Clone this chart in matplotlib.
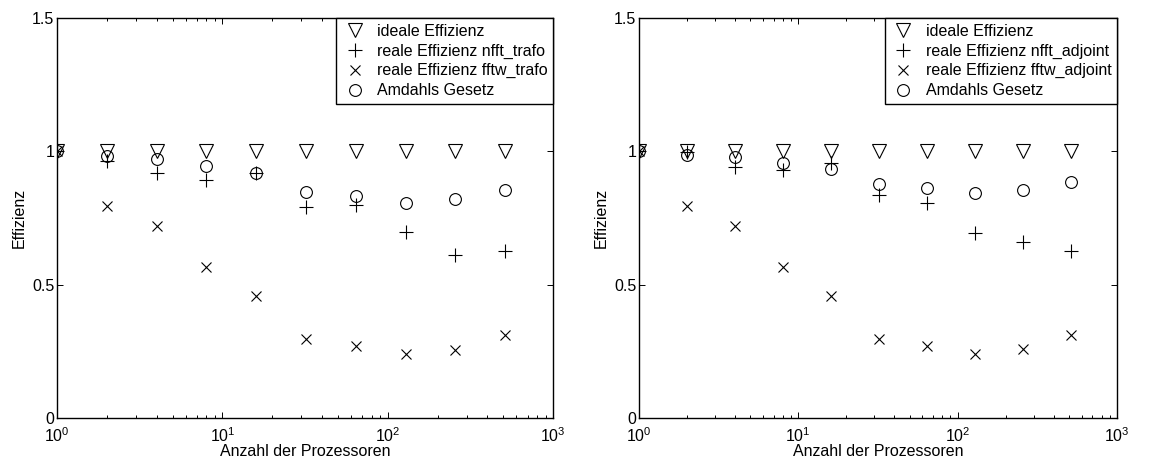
"""
Parallel efficiency: nfft/fftw trafo and adjoint vs. Amdahl's law
Two log-x scatter panels, MATLAB-like styling
"""
import matplotlib
matplotlib.use("Agg")
import matplotlib.pyplot as plt
from matplotlib.ticker import LogLocator, NullFormatter, FixedLocator

plt.rcParams["font.family"] = ["Liberation Sans", "DejaVu Sans"]

PROCS = [1, 2, 4, 8, 16, 32, 64, 128, 256, 512]
IDEAL = [1.0] * 10

# left panel (trafo)
NFFT_TRAFO = [1.0, 0.965, 0.919, 0.891, 0.919, 0.79, 0.798, 0.698, 0.61, 0.628]
FFTW_TRAFO = [1.0, 0.794, 0.721, 0.566, 0.458, 0.298, 0.27, 0.24, 0.256, 0.31]
AMDAHL_TRAFO = [1.0, 0.983, 0.973, 0.946, 0.919, 0.849, 0.831, 0.808, 0.82, 0.856]

# right panel (adjoint)
NFFT_ADJ = [1.0, 0.998, 0.94, 0.931, 0.956, 0.835, 0.808, 0.695, 0.659, 0.625]
FFTW_ADJ = [1.0, 0.794, 0.721, 0.566, 0.458, 0.298, 0.27, 0.241, 0.258, 0.31]
AMDAHL_ADJ = [1.0, 0.986, 0.978, 0.958, 0.935, 0.879, 0.863, 0.843, 0.854, 0.884]

PANELS = [
    ([0.049, 0.0933, 0.4258, 0.8677], NFFT_TRAFO, FFTW_TRAFO, AMDAHL_TRAFO,
     "reale Effizienz nfft_trafo", "reale Effizienz fftw_trafo"),
    ([0.5485, 0.0933, 0.4103, 0.8677], NFFT_ADJ, FFTW_ADJ, AMDAHL_ADJ,
     "reale Effizienz nfft_adjoint", "reale Effizienz fftw_adjoint"),
]

FS = 11.5

fig = plt.figure(figsize=(11.65, 4.61), dpi=100)

for rect, nfft, fftw, amdahl, lab_nfft, lab_fftw in PANELS:
    ax = fig.add_axes(rect)
    ax.set_xscale("log")
    ax.plot(PROCS, IDEAL, linestyle="none", marker="v", markersize=9.5,
            markerfacecolor="none", markeredgecolor="black", markeredgewidth=0.8,
            label="ideale Effizienz")
    ax.plot(PROCS, nfft, linestyle="none", marker="+", markersize=9.5,
            color="black", markeredgewidth=0.8, label=lab_nfft)
    ax.plot(PROCS, fftw, linestyle="none", marker="x", markersize=7,
            color="black", markeredgewidth=0.8, label=lab_fftw)
    ax.plot(PROCS, amdahl, linestyle="none", marker="o", markersize=8.5,
            markerfacecolor="none", markeredgecolor="black", markeredgewidth=0.8,
            label="Amdahls Gesetz")

    ax.set_xlim(1, 1000)
    ax.set_ylim(0, 1.5)
    ax.yaxis.set_major_locator(FixedLocator([0, 0.5, 1, 1.5]))
    ax.set_yticklabels(["0", "0.5", "1", "1.5"])
    ax.xaxis.set_major_locator(LogLocator(base=10, numticks=10))
    ax.xaxis.set_minor_locator(LogLocator(base=10, subs=range(2, 10), numticks=20))
    ax.xaxis.set_minor_formatter(NullFormatter())
    ax.tick_params(which="both", direction="in", top=True, right=True,
                   labelsize=FS, width=0.7)
    ax.tick_params(axis="y", pad=2)
    ax.tick_params(axis="x", pad=6)
    ax.tick_params(which="major", length=4)
    ax.tick_params(which="minor", length=2)
    for sp in ax.spines.values():
        sp.set_linewidth(1.0)

    ax.set_xlabel("Anzahl der Prozessoren", fontsize=FS, labelpad=-1)
    ax.set_ylabel("Effizienz", fontsize=FS, labelpad=4)

    leg = ax.legend(loc="upper right", fontsize=FS, numpoints=1, fancybox=False,
                    framealpha=1, edgecolor="black", borderaxespad=0,
                    handletextpad=0.6, labelspacing=0.3, borderpad=0.35,
                    handlelength=1.6)
    leg.get_frame().set_linewidth(1.0)

fig.savefig("out.png", dpi=100, facecolor="white")
plt.close(fig)
